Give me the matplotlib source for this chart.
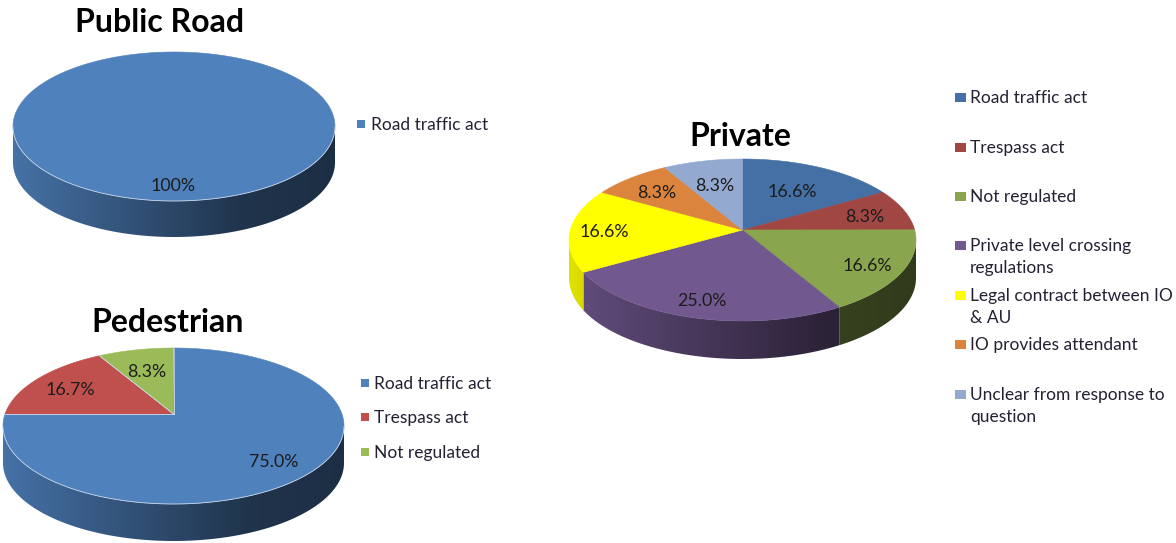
import numpy as np
import matplotlib
matplotlib.use('Agg')
import matplotlib.pyplot as plt
from matplotlib.patches import Polygon, Rectangle

plt.rcParams['font.family'] = ['Lato', 'DejaVu Sans']

public_values = [100]
public_labels = ['100%']
public_names = ['Road traffic act']
public_colors = ['#4F81BD']

pedestrian_values = [75.0, 16.7, 8.3]
pedestrian_labels = ['75.0%', '16.7%', '8.3%']
pedestrian_names = ['Road traffic act', 'Trespass act', 'Not regulated']
pedestrian_colors = ['#4F81BD', '#C0504D', '#9BBB59']

private_values = [16.6, 8.3, 16.6, 25.0, 16.6, 8.3, 8.3]
private_labels = ['16.6%', '8.3%', '16.6%', '25.0%', '16.6%', '8.3%', '8.3%']
private_names = ['Road traffic act', 'Trespass act', 'Not regulated',
                 'Private level crossing\nregulations',
                 'Legal contract between IO\n& AU', 'IO provides attendant',
                 'Unclear from response to\nquestion']
private_colors = ['#4470A5', '#A04643', '#89A54E', '#71588F', '#FFFF00',
                  '#DB843D', '#93A9CF']


def project(theta, r, geo):
    # tilted disc: circle through a perspective map, theta clockwise from top
    cx, cy, rx, top, bottom = geo
    c = (bottom - top) / (bottom + top)
    a = top * (1 + c)
    d = rx * np.sqrt(1 - c * c)
    u = r * np.sin(theta)
    v = r * np.cos(theta)
    w = 1 + c * v
    return cx + d * u / w, cy - a * v / w


def draw_pie(ax, values, colors, labels, label_r, geo, depth, edge=None):
    cx, cy, rx, top, bottom = geo
    mid_y = cy + (bottom - top) / 2
    values = np.array(values, dtype=float)
    ends = np.cumsum(values) / values.sum() * 2 * np.pi
    starts = np.concatenate([[0], ends[:-1]])

    # side wall: only the front half of the rim, shaded left to right
    t = np.linspace(0, 1, 200)
    shade = np.interp(t, [0, 0.72, 1], [0.88, 0.40, 0.36])
    for s, e, col in zip(starts, ends, colors):
        th = np.linspace(s, e, 400)
        xs, ys = project(th, 1, geo)
        front = ys >= mid_y
        if front.sum() < 2:
            continue
        xs, ys = xs[front], ys[front]
        pts = list(zip(xs, ys)) + list(zip(xs[::-1], ys[::-1] + depth))
        wall = Polygon(pts, closed=True, fc='none', ec='none', transform=ax.transData)
        ax.add_patch(wall)
        grad = np.outer(shade, matplotlib.colors.to_rgb(col))[None, :, :]
        im = ax.imshow(grad, extent=(cx - rx, cx + rx, mid_y + bottom + depth, mid_y - 5),
                       aspect='auto', interpolation='bilinear', zorder=2)
        im.set_clip_path(wall)

    centre = project(0.0, 0, geo)
    for s, e, col in zip(starts, ends, colors):
        th = np.linspace(s, e, 240)
        xs, ys = project(th, 1, geo)
        pts = [centre] + list(zip(xs, ys))
        ax.add_patch(Polygon(pts, closed=True, fc=col, ec=col, lw=0.4, zorder=3))
        if edge is not None and len(values) > 1:
            for a in (s, e):
                x1, y1 = project(a, 1, geo)
                ax.plot([centre[0], x1], [centre[1], y1], color=edge, lw=0.5, zorder=4)

    # light rim along the front edge
    if edge is not None:
        th = np.linspace(0, 2 * np.pi, 400)
        xs, ys = project(th, 1, geo)
        front = ys >= mid_y
        ax.plot(xs[front], ys[front], color=edge, lw=0.6, zorder=4)

    for s, e, lab, r in zip(starts, ends, labels, label_r):
        x, y = project((s + e) / 2, r, geo)
        ax.text(x - 1, y + 2.5, lab, ha='center', va='center', fontsize=12.8, color='#1c1c1c', zorder=5)


def draw_legend(ax, names, colors, xbox, xtext, ys, size, line_gap=22):
    w, h = size
    for name, col, y in zip(names, colors, ys):
        ax.add_patch(Rectangle((xbox, y - h / 2), w, h, fc=col, ec='none', zorder=3))
        for i, part in enumerate(name.split('\n')):
            ax.text(xtext, y + 1 + i * line_gap, part, ha='left', va='center',
                    fontsize=12.5, color='#222233', zorder=5)


fig = plt.figure(figsize=(11.76, 5.43), dpi=100)
ax = fig.add_axes([0, 0, 1, 1])

draw_pie(ax, public_values, public_colors, public_labels, [0.81],
         (174, 117, 161, 65, 84), 36, edge='#C9D6E6')
draw_pie(ax, pedestrian_values, pedestrian_colors, pedestrian_labels, [0.78, 0.74, 0.66],
         (173.5, 414, 170.5, 66, 90), 37, edge='#C9D6E6')
draw_pie(ax, private_values, private_colors, private_labels,
         [0.63, 0.76, 0.8, 0.8, 0.8, 0.74, 0.65],
         (742.5, 230, 173.5, 71, 91), 38)

ax.text(160, 22, 'Public Road', ha='center', va='center', fontsize=23, fontweight='bold', color='black')
ax.text(168, 322, 'Pedestrian', ha='center', va='center', fontsize=23, fontweight='bold', color='black')
ax.text(740, 136, 'Private', ha='center', va='center', fontsize=23, fontweight='bold', color='black')

draw_legend(ax, public_names, public_colors, 357, 371, [124], (8, 8))
draw_legend(ax, pedestrian_names, pedestrian_colors, 361, 374, [383, 417, 452], (8, 8))
draw_legend(ax, private_names, private_colors, 955, 970,
            [97, 147, 196, 245, 295, 344, 394], (11, 9))

# imshow resets the view, so fix the pixel limits last
ax.set_xlim(0, 1176)
ax.set_ylim(543, 0)
ax.axis('off')

fig.savefig('out.png', dpi=100, facecolor='white')
